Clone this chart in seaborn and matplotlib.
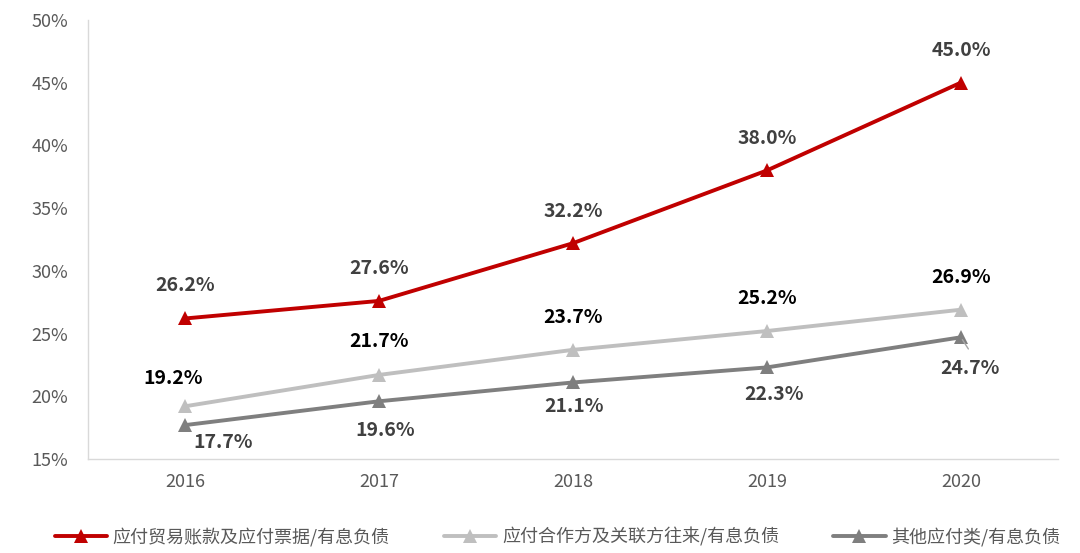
import pandas as pd
import matplotlib.pyplot as plt
import seaborn as sns

years = [2016, 2017, 2018, 2019, 2020]
series_names = ["应付贸易账款及应付票据/有息负债", "应付合作方及关联方往来/有息负债", "其他应付类/有息负债"]
trade_pay = [26.2, 27.6, 32.2, 38.0, 45.0]
partner_pay = [19.2, 21.7, 23.7, 25.2, 26.9]
other_pay = [17.7, 19.6, 21.1, 22.3, 24.7]
yticks = [15, 20, 25, 30, 35, 40, 45, 50]

colors = ["#C00000", "#BFBFBF", "#7F7F7F"]
label_colors = ["#404040", "#000000", "#404040"]

df = pd.DataFrame({
    "year": years * 3,
    "value": trade_pay + partner_pay + other_pay,
    "series": [s for s in series_names for _ in years],
})

sns.set_style("white")
plt.rcParams["font.family"] = ["Noto Sans CJK SC", "DejaVu Sans"]

fig = plt.figure(figsize=(10.8, 5.53), dpi=100)
ax = fig.add_axes([0.0815, 0.17, 0.898, 0.794])

sns.lineplot(data=df, x="year", y="value", hue="series", hue_order=series_names,
             palette=colors, marker="^", markersize=10, markeredgewidth=0,
             linewidth=2.8, ax=ax, legend=True)

# label offsets in pixels (red/light gray above, dark gray below)
offsets = [
    [(0, 33), (0, 32), (0, 32), (0, 32), (0, 32)],
    [(-12, 28), (0, 33), (0, 32), (0, 33), (0, 32)],
    [(38, -17), (6, -29), (1, -24), (7, -27), (9, -31)],
]
for vals, offs, c in zip([trade_pay, partner_pay, other_pay], offsets, label_colors):
    for x, v, (dx, dy) in zip(years, vals, offs):
        ax.annotate(f"{v:.1f}%", (x, v), xytext=(dx, dy), textcoords="offset pixels",
                    ha="center", va="center", fontsize=14, fontweight="bold", color=c)
# leader line for last dark gray label
ax.annotate("", xy=(years[-1], other_pay[-1]), xytext=(9, -14), textcoords="offset pixels",
            arrowprops=dict(arrowstyle="-", color="#A6A6A6", lw=1))

ax.set_xlim(2015.5, 2020.5)
ax.set_ylim(15, 50)
ax.set_xticks(years)
ax.set_xticklabels([str(y) for y in years])
ax.set_yticks(yticks)
ax.set_yticklabels([f"{t}%" for t in yticks])
ax.tick_params(axis="both", labelsize=13, colors="#595959", length=0)
ax.tick_params(axis="x", pad=10)
ax.tick_params(axis="y", pad=14)
ax.set_xlabel("")
ax.set_ylabel("")
for side in ["top", "right"]:
    ax.spines[side].set_visible(False)
for side in ["left", "bottom"]:
    ax.spines[side].set_color("#D9D9D9")
    ax.spines[side].set_linewidth(1)

handles, labels = ax.get_legend_handles_labels()
ax.get_legend().remove()
fig.legend(handles, labels, loc="center left", bbox_to_anchor=(55 / 1080, 0.029), ncol=3,
           frameon=False, fontsize=13, labelcolor="#595959", handlelength=2.9,
           columnspacing=3.0, handletextpad=0.3, borderpad=0, borderaxespad=0)

fig.savefig("out.png", dpi=100)
